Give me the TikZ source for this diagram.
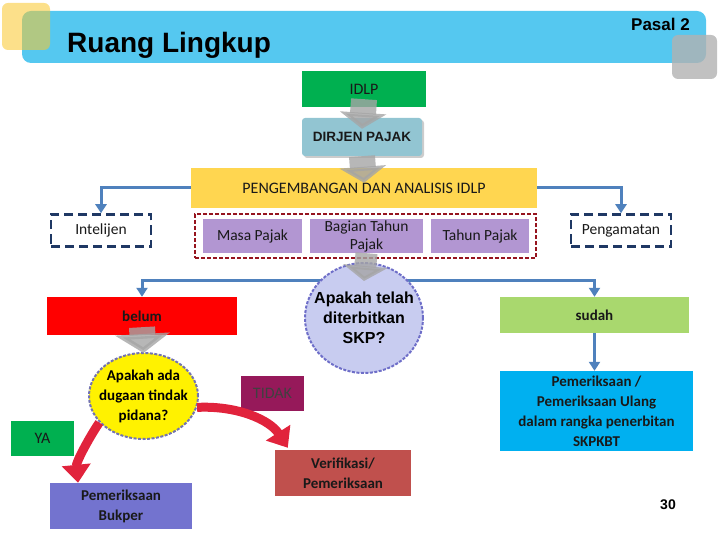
\documentclass[tikz,border=0pt]{standalone}
\usepackage{fontspec}
\setmainfont{Carlito}
\newfontfamily\arialf{Liberation Sans}
\usetikzlibrary{shapes.geometric,arrows.meta,shadows}

\definecolor{banner}{RGB}{85,200,240}
\definecolor{hdyellow}{RGB}{250,200,46}
\definecolor{hdgray}{RGB}{178,178,178}
\definecolor{idlpgreen}{RGB}{0,176,80}
\definecolor{dirjenblue}{RGB}{146,197,210}
\definecolor{penggold}{RGB}{255,214,80}
\definecolor{navy}{RGB}{31,56,100}
\definecolor{framered}{RGB}{150,20,30}
\definecolor{lilac}{RGB}{178,150,210}
\definecolor{skpfill}{RGB}{200,204,240}
\definecolor{skpline}{RGB}{110,110,200}
\definecolor{connblue}{RGB}{79,129,189}
\definecolor{arrgray}{RGB}{165,165,165}
\definecolor{crimson}{RGB}{225,35,60}
\definecolor{sudahgreen}{RGB}{169,216,110}
\definecolor{skyblue}{RGB}{0,176,240}
\definecolor{tidakpurple}{RGB}{150,25,90}
\definecolor{bukperblue}{RGB}{115,115,207}
\definecolor{verifred}{RGB}{192,80,77}

\begin{document}
\begin{tikzpicture}[x=1pt,y=-1pt,
  box/.style={inner sep=0pt,align=center,text=black!90,font=\fontsize{15.5}{19}\selectfont},
  boldbox/.style={box,font=\bfseries\fontsize{15}{20}\selectfont},
  dashbox/.style={box,draw=navy,line width=2.5pt,dash pattern=on 9pt off 5pt},
  bluearr/.style={draw=connblue,line width=3pt,-{Triangle[width=11pt,length=9pt]}},
  grayarr/.style={draw=arrgray,opacity=.8,line width=26pt,-{Triangle[width=46pt,length=16pt]}},
  redarr/.style={draw=crimson,line width=9pt,-{Triangle[width=28pt,length=18pt]}}]
\useasboundingbox (0,0) rectangle (720,540);

% header
\fill[banner,rounded corners=9pt] (22,11) rectangle (706,63);
\fill[hdyellow,opacity=.56,rounded corners=6pt] (2,3) rectangle (50,50);
\fill[hdgray,opacity=.8,rounded corners=6pt] (672,35) rectangle (717,79);
\node[anchor=base west,inner sep=0pt,font=\arialf\bfseries\fontsize{28}{32}\selectfont]
    (title) at (67,53) {Ruang Lingkup};
\node[anchor=base east,inner sep=0pt,font=\arialf\bfseries\fontsize{17}{20}\selectfont]
    (pasal) at (690,31) {Pasal 2};

% top chain
\node[box,fill=idlpgreen,minimum width=124pt,minimum height=36pt,
    font=\fontsize{16}{19}\selectfont] (idlp) at (364,89) {IDLP};
\node[box,fill=dirjenblue,rounded corners=3pt,
    drop shadow={shadow xshift=2pt,shadow yshift=-2pt,opacity=.4},
    minimum width=120pt,minimum height=38pt,
    font=\arialf\bfseries\fontsize{13.5}{16}\selectfont] (dirjen) at (362,137) {DIRJEN PAJAK};
\node[box,fill=penggold,minimum width=346pt,minimum height=40pt,
    font=\fontsize{16}{19}\selectfont] (peng) at (364,188) {PENGEMBANGAN DAN ANALISIS IDLP};

% side branches
\node[dashbox,minimum width=100pt,minimum height=32pt] (intel) at (101,230.5) {Intelijen};
\node[dashbox,minimum width=100pt,minimum height=32pt] (amat) at (621,230.5) {Pengamatan};
\draw[bluearr] (peng.west) -| (intel.north);
\draw[bluearr] (peng.east) -| (amat.north);

% periods
\node[draw=framered,line width=2pt,dash pattern=on 4pt off 2pt,
    minimum width=341pt,minimum height=44pt] (frame) at (365.5,236) {};
\node[box,fill=lilac,minimum width=99pt,minimum height=34pt] (masa) at (252.5,236) {Masa Pajak};
\node[box,fill=lilac,minimum width=113pt,minimum height=34pt,
    font=\fontsize{15.5}{18}\selectfont] (bagian) at (366.5,236) {Bagian Tahun\\Pajak};
\node[box,fill=lilac,minimum width=98pt,minimum height=34pt] (tahun) at (480,236) {Tahun Pajak};

% SKP question
\coordinate (split) at (364,280);
\node[boldbox,fill=red,minimum width=190pt,minimum height=38pt] (belum) at (142,316) {belum};
\node[boldbox,fill=sudahgreen,minimum width=189pt,minimum height=36pt] (sudah) at (594.5,315) {sudah};
\draw[bluearr] (split) -| (belum.north);
\draw[bluearr] (split) -| (sudah.north);
\node[ellipse,fill=skpfill,draw=skpline,line width=2pt,dash pattern=on 3pt off 1.5pt,
    minimum width=118pt,minimum height=110pt] (skp) at (364,318) {};
\node[align=center,inner sep=0pt,font=\arialf\bfseries\fontsize{16}{20}\selectfont]
    (skptext) at (skp) {Apakah telah\\diterbitkan\\SKP?};

\node[boldbox,fill=skyblue,minimum width=193pt,minimum height=80pt] (skpkbt) at (596.5,411)
    {Pemeriksaan /\\Pemeriksaan Ulang\\dalam rangka penerbitan\\SKPKBT};
\draw[bluearr] (sudah.south) -- (sudah.south |- skpkbt.north);

% pidana question
\node[ellipse,fill=yellow,draw=skpline!70!gray,line width=2pt,dash pattern=on 3pt off 1.5pt,
    minimum width=109pt,minimum height=86pt] (pidana) at (143.5,396) {};
\node[align=center,inner sep=0pt,font=\bfseries\fontsize{15}{20}\selectfont]
    (pidanatext) at (pidana) {Apakah ada\\dugaan tindak\\pidana?};
\node[box,fill=idlpgreen,minimum width=63pt,minimum height=35pt,
    font=\fontsize{16}{19}\selectfont] (ya) at (42.5,438.5) {YA};
\node[box,fill=tidakpurple,minimum width=63pt,minimum height=35pt,text=black!75,
    font=\fontsize{16}{19}\selectfont] (tidak) at (272.5,393.5) {TIDAK};
\node[boldbox,fill=bukperblue,minimum width=142pt,minimum height=46pt] (bukper) at (121,506)
    {Pemeriksaan\\Bukper};
\node[boldbox,fill=verifred,minimum width=136pt,minimum height=46pt] (verif) at (343,473)
    {Verifikasi/\\Pemeriksaan};

% gray block arrows
\draw[grayarr] ([yshift=8pt]idlp.south) -- ([yshift=-11pt]dirjen.north);
\draw[grayarr] (dirjen.south) -- ([yshift=-15pt]peng.north);
\draw[grayarr,line width=22pt,-{Triangle[width=44pt,length=15pt]}]
    (bagian.south) -- ([yshift=-19pt]skp.north);
\draw[grayarr,-{Triangle[width=54pt,length=19pt]}]
    ([yshift=8pt]belum.south) -- ([yshift=-1pt]pidana.north);

% red curved arrows
\draw[redarr] (pidana.211) .. controls +(-12,18) and +(-2,-20) .. ([xshift=-43pt]bukper.north);
\draw[redarr] (pidana.-12) .. controls +(40,-2) and +(-18,-28) .. ([xshift=13pt,yshift=2pt]verif.north west);

\node[anchor=base,inner sep=0pt,font=\arialf\bfseries\fontsize{14}{16}\selectfont]
    (page) at (668,509) {30};
\end{tikzpicture}
\end{document}
